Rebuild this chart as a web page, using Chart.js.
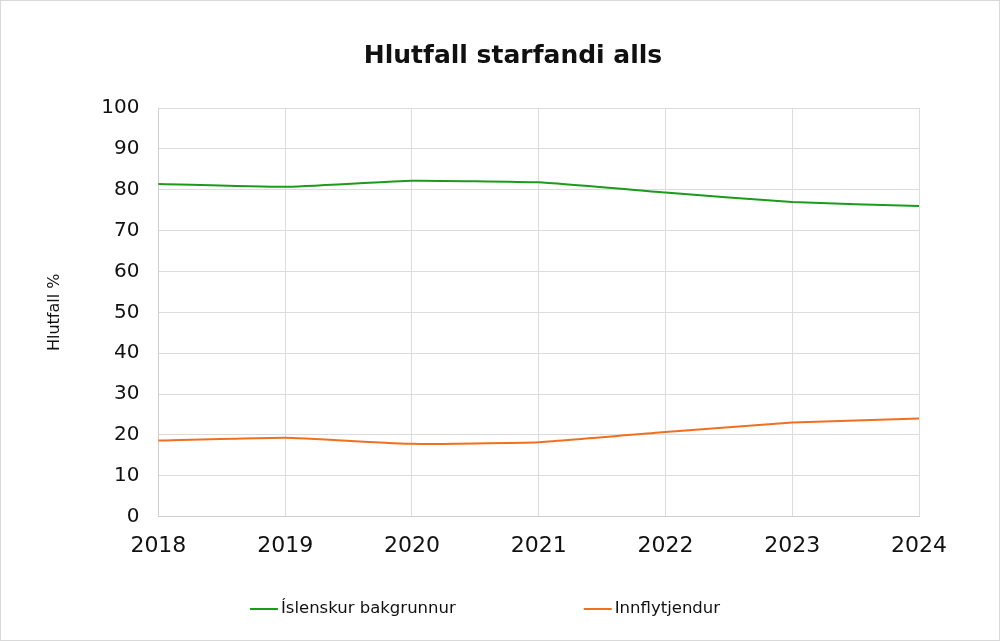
<!DOCTYPE html>
<html>
<head>
<meta charset="utf-8">
<script src="https://cdn.jsdelivr.net/npm/chart.js@4"></script>
<style>
  body { margin: 0; background: #fff; }
  #wrap { width: 1000px; height: 641px; box-sizing: border-box; border: 1px solid #d9d9d9; }
  canvas { display: block; }
</style>
</head>
<body>
<div id="wrap"><canvas id="myChart" width="998" height="639"></canvas></div>
<script>
var years = ['2018', '2019', '2020', '2021', '2022', '2023', '2024'];
var islenskur = [81.4, 80.7, 82.2, 81.8, 79.3, 77.0, 76.0];
var innflytjendur = [18.6, 19.3, 17.8, 18.2, 20.7, 23.0, 24.0];

Chart.defaults.font.family = '"DejaVu Sans", sans-serif';
Chart.defaults.color = '#111';

// legend drawn by hand so the two items can sit far apart without extra height
var bottomLegend = {
    id: 'bottomLegend',
    afterLayout: function (chart) {
        // title is centred a bit right of the canvas centre in the original
        chart.titleBlock.left = 106;
        chart.titleBlock.right = 918;
    },
    afterDraw: function (chart) {
        var c = chart.ctx;
        var items = chart.data.datasets;
        var lineW = 28, gap = 3, spacing = 128, y = 608;
        c.save();
        c.font = '16.5px "DejaVu Sans", sans-serif';
        var widths = items.map(function (d) { return c.measureText(d.label).width; });
        var total = 0;
        widths.forEach(function (w, i) { total += lineW + gap + w + (i < widths.length - 1 ? spacing : 0); });
        var x = 484 - total / 2;
        items.forEach(function (d, i) {
            c.strokeStyle = d.borderColor;
            c.lineWidth = 2;
            c.beginPath();
            c.moveTo(x, y);
            c.lineTo(x + lineW, y);
            c.stroke();
            c.fillStyle = '#111';
            c.textBaseline = 'middle';
            c.fillText(d.label, x + lineW + gap, y);
            x += lineW + gap + widths[i] + spacing;
        });
        c.restore();
    }
};

var ctx = document.getElementById('myChart').getContext('2d');
new Chart(ctx, {
    type: 'line',
    data: {
        labels: years,
        datasets: [
            {
                label: 'Íslenskur bakgrunnur',
                borderColor: '#1c9a1c',
                backgroundColor: '#1c9a1c',
                borderWidth: 2,
                pointRadius: 0,
                data: islenskur
            },
            {
                label: 'Innflytjendur',
                borderColor: '#f07020',
                backgroundColor: '#f07020',
                borderWidth: 2,
                pointRadius: 0,
                data: innflytjendur
            }
        ]
    },
    options: {
        responsive: false,
        animation: false,
        elements: {
            line: { tension: 0.12 } // only a slight curve in the original
        },
        layout: { padding: { left: 0, right: 80, top: 0, bottom: 65 } },
        plugins: {
            title: {
                display: true,
                text: 'Hlutfall starfandi alls',
                font: { size: 25, weight: 'bold' },
                color: '#111',
                padding: { top: 40, bottom: 37 }
            },
            legend: { display: false },
            tooltip: { enabled: false }
        },
        scales: {
            x: {
                offset: false,
                grid: { color: '#dcdcdc', drawTicks: false },
                border: { color: '#cfcfcf' },
                ticks: { font: { size: 22 }, padding: 16, maxRotation: 0 }
            },
            y: {
                min: 0,
                max: 100,
                grid: { color: '#dcdcdc', drawTicks: false },
                border: { color: '#cfcfcf' },
                ticks: { stepSize: 10, font: { size: 20 }, padding: 19 },
                title: {
                    display: true,
                    text: 'Hlutfall %',
                    font: { size: 16 },
                    color: '#111',
                    padding: { top: 44, bottom: 18 }
                }
            }
        }
    },
    plugins: [bottomLegend]
});
</script>
</body>
</html>
